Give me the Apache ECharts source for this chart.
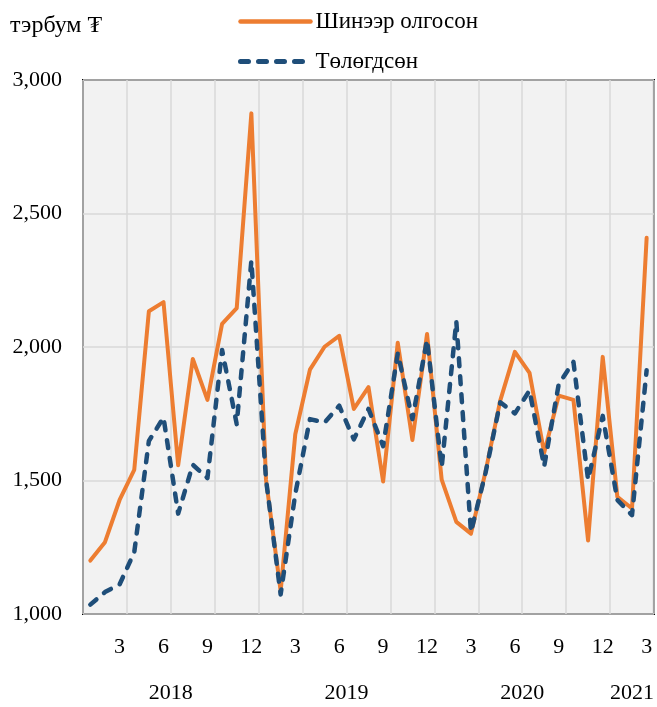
<!DOCTYPE html>
<html>
<head>
<meta charset="utf-8">
<style>
  html, body { margin: 0; padding: 0; background: #fff; }
  #chart { width: 657px; height: 707px; }
</style>
<script src="https://cdn.jsdelivr.net/npm/echarts@6/dist/echarts.min.js"></script>
</head>
<body>
<div id="chart"></div>
<script>
  // сар бүрийн өгөгдөл, 2018-1 ... 2021-3
  var months = [
    '2018-1', '2018-2', '2018-3', '2018-4', '2018-5', '2018-6', '2018-7', '2018-8', '2018-9', '2018-10', '2018-11', '2018-12',
    '2019-1', '2019-2', '2019-3', '2019-4', '2019-5', '2019-6', '2019-7', '2019-8', '2019-9', '2019-10', '2019-11', '2019-12',
    '2020-1', '2020-2', '2020-3', '2020-4', '2020-5', '2020-6', '2020-7', '2020-8', '2020-9', '2020-10', '2020-11', '2020-12',
    '2021-1', '2021-2', '2021-3'
  ]
  var newLoans = [
    1200, 1269, 1427, 1540, 2134, 2168, 1557, 1955, 1802, 2087, 2146, 2875,
    1503, 1086, 1673, 1915, 2001, 2042, 1768, 1850, 1496, 2016, 1652, 2049,
    1503, 1345, 1301, 1534, 1799, 1982, 1903, 1604, 1818, 1802, 1275, 1963,
    1439, 1395, 2409
  ]
  var repaid = [
    1035, 1082, 1111, 1231, 1648, 1736, 1376, 1559, 1509, 1989, 1711, 2323,
    1505, 1073, 1450, 1730, 1717, 1780, 1654, 1768, 1629, 1976, 1730, 2027,
    1550, 2096, 1307, 1530, 1793, 1751, 1837, 1553, 1862, 1944, 1503, 1742,
    1427, 1370, 1913
  ]
  var seriesNames = ['Шинээр олгосон', 'Төлөгдсөн']
  var unitLabel = 'тэрбум ₮'

  // жилийн шошго: тухайн жилийн саруудын голд
  var years = []
  var yearCenters = []
  months.forEach(function(m, i) {
    var y = m.split('-')[0]
    var k = years.indexOf(y)
    if (k < 0) {
      years.push(y)
      yearCenters.push({ first: i, last: i })
    } else {
      yearCenters[k].last = i
    }
  })
  var yearPos = yearCenters.map(function(c) { return (c.first + c.last + 1) / 2 })

  var font = 'Liberation Serif'
  var orange = '#ED7D31'
  var blue = '#1F4E79'
  var chart = echarts.init(document.getElementById('chart'))
  var option = {
    animation: false,
    textStyle: { fontFamily: font },
    title: {
      text: unitLabel,
      left: 10,
      top: 14,
      padding: 0,
      textStyle: { fontFamily: font, fontSize: 24, fontWeight: 'normal', color: '#000' }
    },
    legend: {
      orient: 'vertical',
      left: 238,
      top: 10,
      padding: 0,
      itemWidth: 70,
      itemHeight: 14,
      itemGap: 17,
      textStyle: { fontFamily: font, fontSize: 23, color: '#000' },
      data: [{
        name: seriesNames[0],
        itemStyle: { opacity: 0 },
        lineStyle: { width: 4.5, color: orange, cap: 'round' }
      }, {
        name: seriesNames[1],
        itemStyle: { opacity: 0 },
        lineStyle: { width: 5, color: blue, type: [8, 10], cap: 'round' }
      }]
    },
    grid: {
      left: 83,
      right: 3,
      top: 80,
      bottom: 93,
      show: true,
      backgroundColor: '#F2F2F2',
      borderColor: '#000',
      borderWidth: 2
    },
    xAxis: [{
      type: 'category',
      data: months,
      boundaryGap: true,
      axisLine: { show: false },
      axisTick: { show: false },
      axisLabel: {
        margin: 22,
        fontFamily: font,
        fontSize: 22,
        color: '#000',
        interval: function(i, v) { return Number(v.split('-')[1]) % 3 === 0 },
        formatter: function(v) { return v.split('-')[1] }
      },
      splitLine: {
        show: true,
        interval: function(i, v) { return Number(v.split('-')[1]) % 3 === 1 },
        lineStyle: { color: '#D9D9D9', width: 1.5 }
      }
    }, {
      type: 'value',
      position: 'bottom',
      min: 0,
      max: months.length,
      axisLine: { show: false },
      axisTick: { show: false },
      splitLine: { show: false },
      axisLabel: {
        margin: 68,
        fontFamily: font,
        fontSize: 22,
        color: '#000',
        customValues: yearPos,
        formatter: function(v) {
          var k = yearPos.indexOf(v)
          return k >= 0 ? years[k] : ''
        }
      }
    }],
    yAxis: {
      type: 'value',
      min: 1000,
      max: 3000,
      interval: 500,
      axisLine: { show: false },
      axisTick: { show: false },
      axisLabel: {
        margin: 21,
        fontFamily: font,
        fontSize: 22,
        color: '#000',
        formatter: function(v) { return v.toLocaleString('en-US') }
      },
      splitLine: { lineStyle: { color: '#D9D9D9', width: 1.5 } }
    },
    series: [{
      name: seriesNames[0],
      type: 'line',
      data: newLoans,
      symbol: 'none',
      color: orange,
      lineStyle: { width: 4, color: orange, join: 'round', cap: 'round' }
    }, {
      name: seriesNames[1],
      type: 'line',
      data: repaid,
      symbol: 'none',
      color: blue,
      lineStyle: { width: 4.5, color: blue, type: [8, 10], cap: 'round', join: 'round' }
    }]
  }
  chart.setOption(option)
</script>
</body>
</html>
